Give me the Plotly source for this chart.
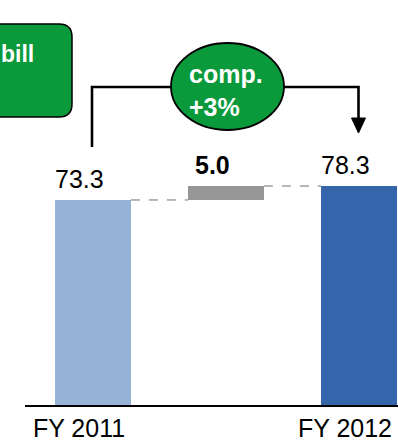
import plotly.graph_objects as go

# ---- data ----
categories = ["FY 2011", "", "FY 2012"]
tick_labels = ["FY 2011", "FY 2012"]
start_value = 73.3
change_value = 5.0
end_value = 78.3
value_labels = ["73.3", "<b>5.0</b>", "78.3"]
badge_text = "<b>comp.<br>+3%</b>"
box_text = "<b>bill</b>"

# ---- derived ----
bar_base = [0, start_value, 0]
bar_height = [start_value, change_value, end_value]
bar_top = [b + h for b, h in zip(bar_base, bar_height)]
bar_colors = ["#95B3D7", "#969696", "#3566AB"]
xs = list(range(len(categories)))

W, H = 398, 442
ML, MR, MT, MB = 25, 0, 0, 37
PW, PH = W - ML - MR, H - MT - MB
UNIT = 133.0
X0 = -(79 - ML) / UNIT
X1 = X0 + PW / UNIT
YMAX = 144.8

BAR_W = 0.57
BAR_OFF = -0.18


def px(xp):
    return (xp - ML) / PW


def py(yp):
    return (MT + PH - yp) / PH


FONT = "Liberation Sans, Arial, sans-serif"
GREEN = "#0A9A3C"

fig = go.Figure()
fig.add_trace(go.Bar(
    x=xs, y=bar_height, base=bar_base,
    width=BAR_W, offset=BAR_OFF,
    marker=dict(color=bar_colors, line=dict(width=0)),
    hoverinfo="skip", showlegend=False,
))

shapes = []
# dashed connectors between bar tops
shapes.append(dict(type="line", xref="x", yref="y",
                   x0=xs[0] + BAR_OFF + BAR_W, x1=xs[1] + BAR_OFF,
                   y0=bar_top[0], y1=bar_top[0],
                   line=dict(color="#6F6F6F", width=1, dash="dash")))
shapes.append(dict(type="line", xref="x", yref="y",
                   x0=xs[1] + BAR_OFF + BAR_W, x1=xs[2] + BAR_OFF,
                   y0=bar_top[1], y1=bar_top[2],
                   line=dict(color="#6F6F6F", width=1, dash="dash")))

# rounded green box (cut off at left)
bx0, bx1, by0, by1, r = -30, 72, 24, 117, 13
path = (f"M {px(bx0 + r)},{py(by0)} L {px(bx1 - r)},{py(by0)} "
        f"Q {px(bx1)},{py(by0)} {px(bx1)},{py(by0 + r)} "
        f"L {px(bx1)},{py(by1 - r)} Q {px(bx1)},{py(by1)} {px(bx1 - r)},{py(by1)} "
        f"L {px(bx0 + r)},{py(by1)} Q {px(bx0)},{py(by1)} {px(bx0)},{py(by1 - r)} "
        f"L {px(bx0)},{py(by0 + r)} Q {px(bx0)},{py(by0)} {px(bx0 + r)},{py(by0)} Z")
shapes.append(dict(type="path", xref="paper", yref="paper", path=path,
                   fillcolor=GREEN, line=dict(color="black", width=1.5)))

# connectors
shapes.append(dict(type="path", xref="paper", yref="paper",
                   path=f"M {px(92)},{py(147)} L {px(92)},{py(87)} L {px(172)},{py(87)}",
                   line=dict(color="black", width=2.6)))
shapes.append(dict(type="path", xref="paper", yref="paper",
                   path=f"M {px(283)},{py(87)} L {px(358.5)},{py(87)} L {px(358.5)},{py(120)}",
                   line=dict(color="black", width=2.6)))
shapes.append(dict(type="path", xref="paper", yref="paper",
                   path=f"M {px(351.5)},{py(118)} L {px(365.5)},{py(118)} L {px(358.5)},{py(133)} Z",
                   fillcolor="black", line=dict(color="black", width=1)))

# ellipse badge
shapes.append(dict(type="circle", xref="paper", yref="paper",
                   x0=px(171), x1=px(284), y0=py(130), y1=py(43),
                   fillcolor=GREEN, line=dict(color="black", width=1.8)))

annotations = []
for i, (t, lab) in enumerate(zip(bar_top, value_labels)):
    annotations.append(dict(x=xs[i], y=t, xref="x", yref="y", text=lab,
                            showarrow=False, yanchor="middle", yshift=21,
                            font=dict(family=FONT, size=25, color="black")))
annotations.append(dict(x=px(187), y=py(91), xref="paper", yref="paper",
                        text=badge_text, showarrow=False, xanchor="left",
                        align="left", yanchor="middle",
                        font=dict(family=FONT, size=25, color="white")))
annotations.append(dict(x=px(0), y=py(54), xref="paper", yref="paper",
                        text=box_text, showarrow=False, xanchor="left",
                        yanchor="middle", borderpad=0,
                        font=dict(family=FONT, size=23, color="white")))

fig.update_layout(
    width=W, height=H,
    margin=dict(l=ML, r=MR, t=MT, b=MB, pad=0),
    paper_bgcolor="white", plot_bgcolor="white",
    shapes=shapes, annotations=annotations,
    xaxis=dict(range=[X0, X1], tickvals=[xs[0], xs[2]], ticktext=tick_labels,
               showline=True, linecolor="black", linewidth=2,
               showgrid=False, zeroline=False, ticks="",
               tickfont=dict(family=FONT, size=25, color="black"),
               fixedrange=True),
    yaxis=dict(range=[0, YMAX], visible=False, fixedrange=True),
    bargap=0,
)

fig.write_html("out.html", config={"displayModeBar": False})
